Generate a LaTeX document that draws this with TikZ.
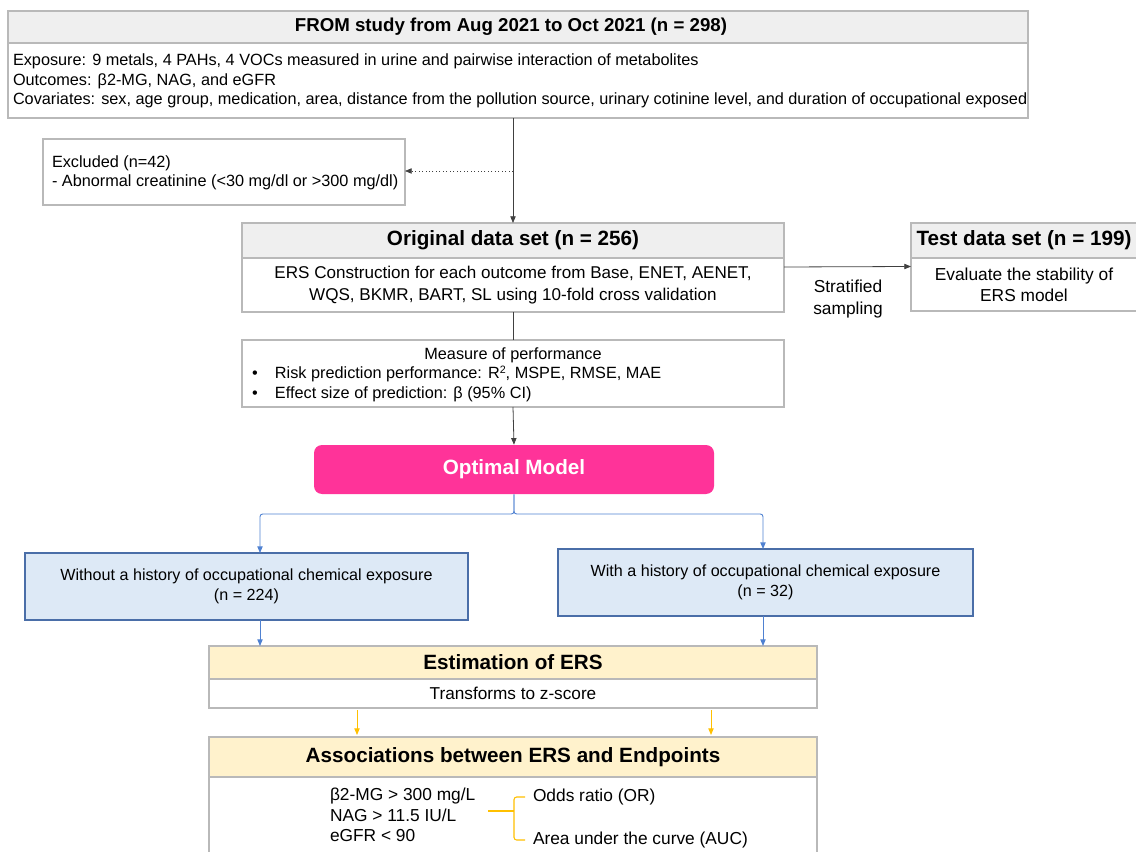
\documentclass[tikz,border=0pt]{standalone}
\usepackage{fontspec}
\setmainfont{Liberation Sans}
\usetikzlibrary{arrows.meta}

\definecolor{hdrgray}{RGB}{239,239,239}
\definecolor{linegray}{RGB}{185,185,185}
\definecolor{bluefill}{RGB}{221,233,246}
\definecolor{blueline}{RGB}{74,110,168}
\definecolor{bluearrow}{RGB}{79,129,209}
\definecolor{yelfill}{RGB}{255,242,204}
\definecolor{orline}{RGB}{255,192,0}
\definecolor{optpink}{RGB}{255,51,153}

\newcommand{\fsz}[2]{\fontsize{#1}{#2}\selectfont}

\tikzset{
  box/.style={draw=linegray, line width=0.8pt, inner sep=0pt, outer sep=0pt, fill=white},
  hdr/.style={box, fill=hdrgray, font=\fsz{15.5}{18}\bfseries},
  yhdr/.style={box, fill=yelfill, font=\fsz{15.5}{18}\bfseries},
  bluebox/.style={draw=blueline, line width=0.9pt, fill=bluefill, inner sep=0pt, outer sep=0pt,
    align=center, font=\fsz{12.1}{15}},
  txt/.style={inner sep=0pt, outer sep=0pt},
  arr/.style={-{Triangle[length=5pt,width=4pt]}, line width=0.6pt, black!75},
  bluearr/.style={-{Triangle[length=5pt,width=4pt]}, line width=0.7pt, bluearrow},
  orarr/.style={-{Triangle[length=5pt,width=4pt]}, line width=0.7pt, orline},
  brace/.style={draw=orline, line width=0.8pt},
}

\begin{document}
\begin{tikzpicture}[x=0.75pt,y=0.75pt,yscale=-1,xscale=1]
\useasboundingbox (0,0) rectangle (1136,852);
\clip (0,0) rectangle (1136,852);

% top box
\node [hdr, minimum width=765pt, minimum height=24pt] (tophdr) at (518,27) {};
\node [txt, font=\fsz{14}{17}\bfseries] (toptitle) at (511,27) {FROM study from Aug 2021 to Oct 2021 (n = 298)};
\node [box, minimum width=765pt, minimum height=56.25pt] (topbody) at (518,80.5) {};
\node [txt, anchor=west, align=left, font=\fsz{12.2}{14.6}] (toptxt) at (13,81) {Exposure: 9 metals, 4 PAHs, 4 VOCs measured in urine and pairwise interaction of metabolites\\Outcomes: β2-MG, NAG, and eGFR\\Covariates: sex, age group, medication, area, distance from the pollution source, urinary cotinine level, and duration of occupational exposed};

% excluded
\node [box, minimum width=271.5pt, minimum height=49.5pt] (excl) at (224,172) {};
\node [txt, anchor=west, align=left, font=\fsz{12.2}{14.25}] (excltxt) at (52,173) {Excluded (n=42)\\- Abnormal creatinine (<30 mg/dl or >300 mg/dl)};

% original data set
\node [hdr, minimum width=406.5pt, minimum height=26.25pt] (orighdr) at (513,240.5) {Original data set (n = 256)};
\node [box, minimum width=406.5pt, minimum height=40.5pt, align=center, font=\fsz{12.8}{16.5}] (origbody) at (513,285) {ERS Construction for each outcome from Base, ENET, AENET,\\WQS, BKMR, BART, SL using 10-fold cross validation};

% test data set
\node [hdr, minimum width=169.5pt, minimum height=26.25pt] (testhdr) at (1024,240.5) {Test data set (n = 199)};
\node [box, minimum width=169.5pt, minimum height=39.75pt, align=center, font=\fsz{13}{15.75}] (testbody) at (1024,284.5) {Evaluate the stability of\\ERS model};
\node [txt, align=center, font=\fsz{13}{16.5}] (strat) at (848,299) {Stratified\\sampling};

% performance
\node [box, minimum width=406.5pt, minimum height=50.25pt] (perf) at (513,373.5) {};
\node [txt, font=\fsz{12.2}{15}] (perftitle) at (513,355) {Measure of performance};
\node [txt, anchor=west, align=left, font=\fsz{12.2}{15}] (perftxt) at (252,384) {\makebox[17.25pt][l]{\textbullet}Risk prediction performance: R\raisebox{0.6ex}{\fsz{8}{8}2}, MSPE, RMSE, MAE\\\makebox[17.25pt][l]{\textbullet}Effect size of prediction: β (95\% CI)};

% optimal model
\node [fill=optpink, rounded corners=6pt, minimum width=300pt, minimum height=36.75pt, inner sep=0pt,
  text=white, font=\fsz{15.5}{18}\bfseries] (opt) at (514,469.5) {Optimal Model};

% groups
\node [bluebox, minimum width=332.25pt, minimum height=50.25pt] (nohist) at (246.5,586.5) {Without a history of occupational chemical exposure\\(n = 224)};
\node [bluebox, minimum width=311.25pt, minimum height=50.25pt] (hist) at (765.5,582.5) {With a history of occupational chemical exposure\\(n = 32)};

% estimation
\node [yhdr, minimum width=456pt, minimum height=24.75pt] (esthdr) at (513,662.5) {Estimation of ERS};
\node [box, minimum width=456pt, minimum height=21.75pt, font=\fsz{12.9}{15}] (estbody) at (513,693.5) {Transforms to z-score};

% associations
\node [yhdr, minimum width=456pt, minimum height=30pt] (assochdr) at (513,757) {Associations between ERS and Endpoints};
\node [box, minimum width=456pt, minimum height=77.25pt] (assocbody) at (513,828.5) {};
\node [txt, anchor=west, align=left, font=\fsz{13}{15.4}] (ends) at (330,815) {β2-MG > 300 mg/L\\NAG > 11.5 IU/L\\eGFR < 90};
\node [txt, anchor=west, font=\fsz{13}{15.4}] (oddsr) at (533,797) {Odds ratio (OR)};
\node [txt, anchor=west, font=\fsz{13}{15.4}] (auc) at (533,840) {Area under the curve (AUC)};

% connectors
\coordinate (split) at (513,171);
\coordinate (bl) at (260,514);
\coordinate (br) at (763,514);
\coordinate (ol) at (357,0);
\coordinate (orr) at (711,0);
\coordinate (brs) at (488,811);
\coordinate (brk) at (514,811);

\draw [arr] (topbody.south -| orighdr.north) -- (orighdr.north);
\draw [arr, dotted] (split) -- (excl.east |- split);
\draw [arr] ([yshift=-13.5pt]origbody.east) -- ([yshift=-13.5pt]testbody.west);
\draw [line width=0.6pt, black!75] (origbody.south) -- (perf.north);
\draw [arr] (perf.south) -- (opt.north);
\draw [bluearr, rounded corners=2pt] (opt.south) |- (bl) -- (bl |- nohist.north);
\draw [bluearr, rounded corners=2pt] (opt.south) |- (br) -- (br |- hist.north);
\draw [bluearr] (nohist.south -| bl) -- (esthdr.north -| bl);
\draw [bluearr] (hist.south -| br) -- (esthdr.north -| br);
\draw [orarr, shorten <=1.5pt, shorten >=1.5pt] (estbody.south -| ol) -- (assochdr.north -| ol);
\draw [orarr, shorten <=1.5pt, shorten >=1.5pt] (estbody.south -| orr) -- (assochdr.north -| orr);
\draw [brace] (brs) -- (brk);
\draw [brace, rounded corners=2pt] ([xshift=-6pt]oddsr.west) -| (brk) |- ([xshift=-6pt]auc.west);

\end{tikzpicture}
\end{document}
